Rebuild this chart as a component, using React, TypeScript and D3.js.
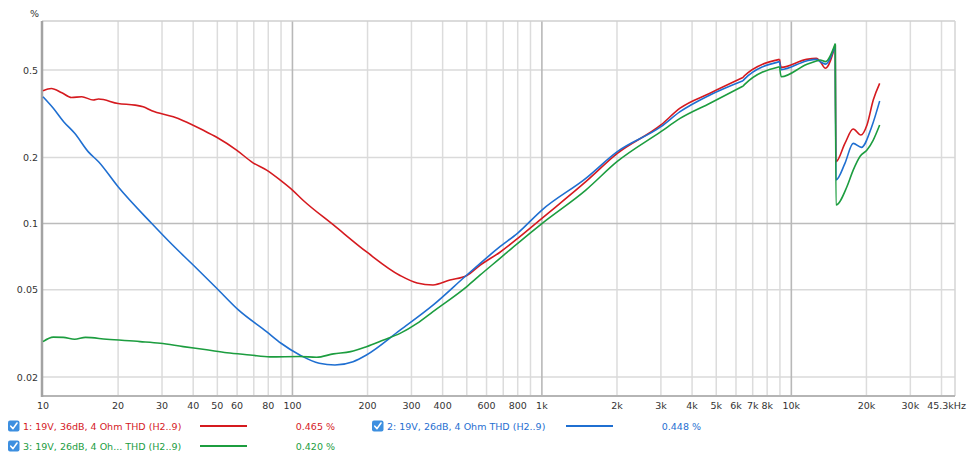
import React from "react";
import * as d3 from "d3";

const redF = [10, 10.8, 11.9, 13, 14.3, 15.9, 16.7, 20, 23.4, 25.2, 27.3, 33.3, 36.5, 43.9, 49.7, 59.7, 69.5, 78.8, 89.1, 100, 110, 146, 199, 270, 316, 366, 428, 500, 566, 679, 800, 1000, 1500, 2000, 3000, 3580, 4720, 6400, 6500, 8970, 9110, 11500, 12600, 13050, 13700, 15000, 15100, 16400, 17700, 19000, 20100, 21300, 22600];
const redV = [0.402, 0.412, 0.394, 0.375, 0.378, 0.365, 0.369, 0.352, 0.346, 0.34, 0.326, 0.306, 0.294, 0.266, 0.247, 0.216, 0.189, 0.175, 0.158, 0.142, 0.128, 0.0985, 0.074, 0.058, 0.0536, 0.0525, 0.0553, 0.058, 0.0647, 0.074, 0.0856, 0.1056, 0.155, 0.208, 0.281, 0.335, 0.392, 0.462, 0.472, 0.559, 0.514, 0.559, 0.565, 0.546, 0.509, 0.65, 0.1912, 0.2318, 0.2693, 0.2528, 0.281, 0.365, 0.435];

const blueF = [10, 11, 12.1, 13.4, 15.2, 16.7, 20, 27.3, 33, 40, 49.7, 60.7, 78.7, 90, 107, 128, 148, 175, 198, 270, 366, 500, 566, 679, 800, 1000, 1500, 2000, 3000, 3580, 4720, 6400, 6500, 8970, 9110, 11500, 12600, 13050, 13700, 15000, 15100, 16400, 17700, 19100, 21000, 22600];
const blueV = [0.378, 0.335, 0.291, 0.2575, 0.212, 0.191, 0.147, 0.1, 0.08, 0.0647, 0.0507, 0.0404, 0.0322, 0.0285, 0.0252, 0.0231, 0.0227, 0.0235, 0.0252, 0.0327, 0.0425, 0.0583, 0.0659, 0.0784, 0.0905, 0.1152, 0.1606, 0.212, 0.276, 0.323, 0.385, 0.447, 0.456, 0.546, 0.502, 0.55, 0.559, 0.546, 0.532, 0.65, 0.158, 0.188, 0.2317, 0.2223, 0.276, 0.361];

const greenF = [10, 11, 12.06, 13.4, 14.8, 18, 24.5, 29.5, 36.5, 45.3, 54.6, 67.6, 81.3, 107, 125, 146, 171, 198, 232, 270, 316, 366, 500, 566, 679, 800, 1000, 1500, 2000, 3000, 3580, 4720, 6400, 6500, 8970, 9110, 11500, 12600, 13050, 13700, 15000, 15100, 16700, 17700, 18900, 20100, 21300, 22600];
const greenV = [0.029, 0.0304, 0.0303, 0.0297, 0.0303, 0.0297, 0.029, 0.0285, 0.0275, 0.0266, 0.0258, 0.0252, 0.0247, 0.0248, 0.0246, 0.0255, 0.0261, 0.0275, 0.0295, 0.0316, 0.0351, 0.0397, 0.0516, 0.0583, 0.0694, 0.0813, 0.1, 0.142, 0.1912, 0.262, 0.301, 0.353, 0.422, 0.43, 0.518, 0.466, 0.53, 0.55, 0.555, 0.546, 0.66, 0.1214, 0.147, 0.175, 0.203, 0.216, 0.24, 0.281];

// frequencies right before the abrupt drops (curve is split there)
const dropFreqs = [6400, 8970, 15000];

const xTickValues = [10, 20, 30, 40, 50, 60, 80, 100, 200, 300, 400, 600, 800, 1000, 2000, 3000, 4000, 5000, 6000, 7000, 8000, 10000, 20000, 30000, 45300];
const xTickLabels = ["10", "20", "30", "40", "50", "60", "80", "100", "200", "300", "400", "600", "800", "1k", "2k", "3k", "4k", "5k", "6k", "7k", "8k", "10k", "20k", "30k", "45.3kHz"];
const yTickValues = [0.5, 0.2, 0.1, 0.05, 0.02];
const yTickLabels = ["0.5", "0.2", "0.1", "0.05", "0.02"];

const seriesNames = ["1: 19V, 36dB, 4 Ohm THD (H2..9)", "2: 19V, 26dB, 4 Ohm THD (H2..9)", "3: 19V, 26dB, 4 Oh... THD (H2..9)"];
const seriesValues = ["0.465 %", "0.448 %", "0.420 %"];
const seriesColors = ["#d51a1f", "#1f6fd1", "#1c9d3f"];

const W = 968;
const H = 454;
const L = 43, R = 955, T = 21, B = 396;
const FONT = "'DejaVu Sans', Verdana, sans-serif";

export default function App() {
  const x = d3.scaleLog().domain([10, 45300]).range([L, R]);
  const y = d3.scaleLog().domain([0.01639, 0.836]).range([B, T]);
  const line = d3
    .line<[number, number]>()
    .x((d) => x(d[0]))
    .y((d) => y(d[1]))
    .curve(d3.curveMonotoneX);

  const series = [
    { f: redF, v: redV },
    { f: blueF, v: blueV },
    { f: greenF, v: greenV },
  ];

  const buildPath = (f: number[], v: number[]) => {
    const pts = f.map((ff, j) => [ff, v[j]] as [number, number]);
    const segs: [number, number][][] = [];
    let cur: [number, number][] = [];
    pts.forEach((p) => {
      cur.push(p);
      if (dropFreqs.includes(p[0])) {
        segs.push(cur);
        cur = [p];
      }
    });
    if (cur.length > 1) segs.push(cur);
    return segs.map((s) => line(s) || "").join(" ");
  };

  const minor: number[] = [];
  [10, 100, 1000, 10000].forEach((d) => {
    for (let m = 2; m <= 9; m++) {
      const f = m * d;
      if (f < 45300) minor.push(f);
    }
  });
  const decades = [100, 1000, 10000];

  const legendPos = [
    { cx: 8, tx: 23, lx: 200, vx: 335, y: 426 },
    { cx: 372, tx: 387, lx: 566, vx: 701, y: 426 },
    { cx: 8, tx: 23, lx: 200, vx: 335, y: 446 },
  ];

  return (
    <svg
      width={W}
      height={H}
      style={{ position: "absolute", left: 0, top: 0, display: "block", background: "#fff" }}
      fontFamily={FONT}
    >
      <rect x={0} y={0} width={W} height={H} fill="#fff" />
      {minor.map((f) => (
        <line key={"m" + f} x1={x(f)} x2={x(f)} y1={T} y2={B} stroke="#dcdcdc" strokeWidth={1.5} />
      ))}
      {yTickValues.map((v) => (
        <line
          key={"h" + v}
          x1={L}
          x2={R}
          y1={y(v)}
          y2={y(v)}
          stroke={v === 0.1 ? "#bcbcbc" : "#dadada"}
          strokeWidth={1.5}
        />
      ))}
      {decades.map((f) => (
        <line key={"d" + f} x1={x(f)} x2={x(f)} y1={T} y2={B} stroke="#b8b8b8" strokeWidth={1.6} />
      ))}
      <line x1={L - 1} x2={R} y1={T} y2={T} stroke="#cfcfcf" strokeWidth={1.5} />
      <line x1={R} x2={R} y1={T} y2={B} stroke="#d4d4d4" strokeWidth={1.5} />
      <line x1={L - 1} x2={R} y1={B} y2={B} stroke="#b5b5b5" strokeWidth={2} />
      <line x1={L - 1} x2={L - 1} y1={T} y2={B + 1} stroke="#a3a3a3" strokeWidth={2.5} />

      {series.map((s, i) => (
        <path
          key={"s" + i}
          d={buildPath(s.f, s.v)}
          fill="none"
          stroke={seriesColors[i]}
          strokeWidth={1.6}
          strokeLinejoin="round"
        />
      ))}

      <text x={39} y={17} fontSize={9.5} textAnchor="end" fill="#333">%</text>
      {yTickValues.map((v, i) => (
        <text key={"yl" + v} x={38} y={y(v) + 3.5} fontSize={9.5} textAnchor="end" fill="#333">
          {yTickLabels[i]}
        </text>
      ))}
      {xTickValues.map((f, i) => (
        <text
          key={"xl" + f}
          x={i === xTickValues.length - 1 ? 966 : x(f)}
          y={409}
          fontSize={9.5}
          textAnchor={i === xTickValues.length - 1 ? "end" : "middle"}
          fill="#333"
        >
          {xTickLabels[i]}
        </text>
      ))}

      {legendPos.map((p, i) => (
        <g key={"lg" + i}>
          <rect x={p.cx} y={p.y - 5.5} width={11.5} height={11} rx={2} fill="#3d8fe0" />
          <path
            d={`M${p.cx + 2.8},${p.y + 0.2} L${p.cx + 5},${p.y + 2.6} L${p.cx + 9},${p.y - 3}`}
            fill="none"
            stroke="#fff"
            strokeWidth={1.6}
            strokeLinecap="round"
            strokeLinejoin="round"
          />
          <text x={p.tx} y={p.y + 3.5} fontSize={9.5} fill={seriesColors[i]}>
            {seriesNames[i]}
          </text>
          <line x1={p.lx} x2={p.lx + 47} y1={p.y} y2={p.y} stroke={seriesColors[i]} strokeWidth={1.8} />
          <text x={p.vx} y={p.y + 3.5} fontSize={9.5} textAnchor="end" fill={seriesColors[i]}>
            {seriesValues[i]}
          </text>
        </g>
      ))}
    </svg>
  );
}
